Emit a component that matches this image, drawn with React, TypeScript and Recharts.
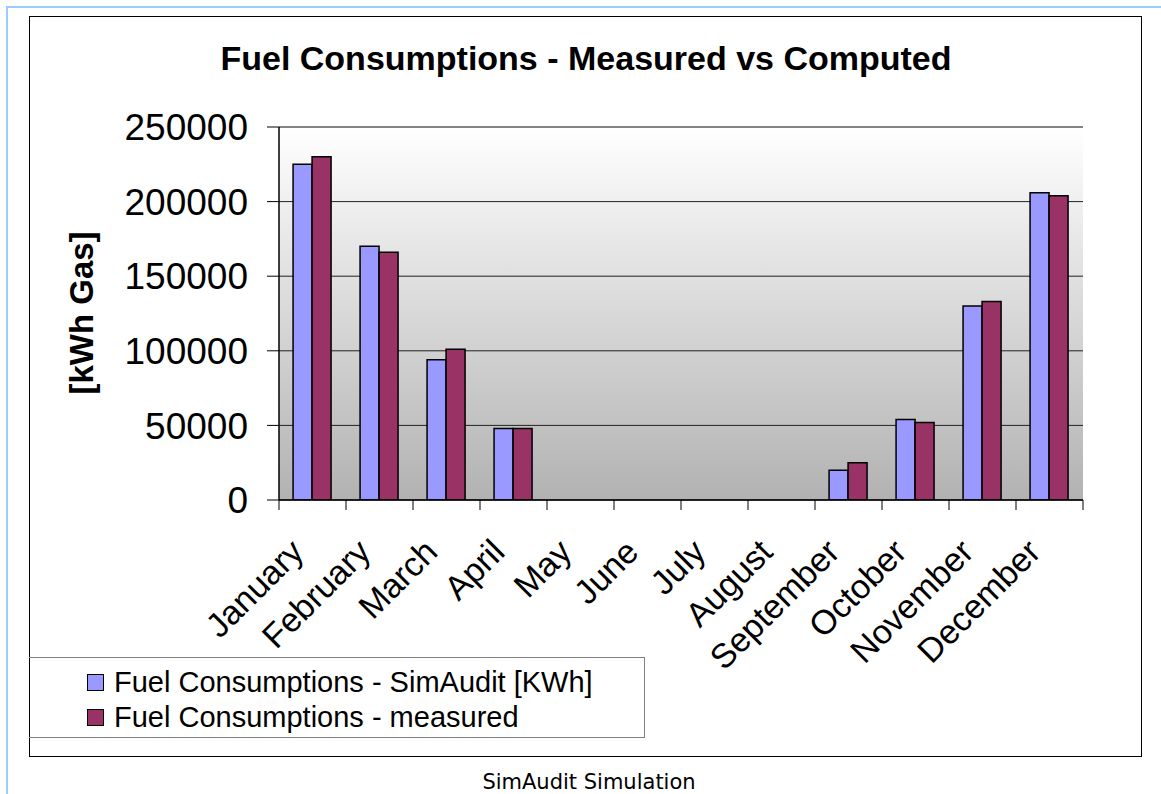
import React from 'react';
import { BarChart, Bar, XAxis, YAxis, CartesianGrid, Legend, ReferenceLine } from 'recharts';

// valori
const months = [
  'January', 'February', 'March', 'April', 'May', 'June',
  'July', 'August', 'September', 'October', 'November', 'December',
];
const simAudit = [225000, 170000, 94000, 48000, 0, 0, 0, 0, 20000, 54000, 130000, 206000];
const measured = [230000, 166000, 101000, 48000, 0, 0, 0, 0, 25000, 52000, 133000, 204000];
const yTicks = [0, 50000, 100000, 150000, 200000, 250000];

const data = months.map((month, i) => ({
  month,
  simAudit: simAudit[i],
  measured: measured[i],
}));

const FONT = '"Liberation Sans", Arial, sans-serif';

// tick mese: trattino sul bordo della categoria + etichetta ruotata
const MonthTick = (props: any) => {
  const { x, y, payload, index } = props;
  const half = payload?.offset ?? 0;
  const ax = x - 7;
  const ay = y + 44;
  return (
    <g>
      <line x1={x - half} x2={x - half} y1={y - 10} y2={y} stroke="#000" />
      {index === months.length - 1 && (
        <line x1={x + half} x2={x + half} y1={y - 10} y2={y} stroke="#000" />
      )}
      <text
        x={ax}
        y={ay}
        transform={`rotate(-45, ${ax}, ${ay})`}
        textAnchor="end"
        fontSize={34}
        fill="#000"
      >
        {payload.value}
      </text>
    </g>
  );
};

const renderLegend = (props: any) => {
  const { payload } = props;
  return (
    <div style={{ paddingTop: 7, paddingLeft: 58 }}>
      {(payload || []).map((entry: any) => (
        <div key={entry.value} style={{ display: 'flex', alignItems: 'center', height: 35 }}>
          <span
            style={{
              display: 'inline-block',
              width: 15,
              height: 15,
              background: entry.color,
              border: '1.5px solid #000',
              marginRight: 10,
            }}
          />
          <span style={{ fontSize: 29, color: '#000', fontFamily: FONT }}>{entry.value}</span>
        </div>
      ))}
    </div>
  );
};

export default function App() {
  return (
    <div
      style={{
        position: 'absolute',
        left: 0,
        top: 0,
        width: 1161,
        height: 794,
        background: '#fff',
        fontFamily: FONT,
        overflow: 'hidden',
      }}
    >
      {/* cornice azzurra della pagina */}
      <div
        style={{
          position: 'absolute',
          left: 6,
          top: 6,
          width: 1200,
          height: 900,
          borderTop: '2px solid #9cf',
          borderLeft: '2px solid #9cf',
        }}
      />
      {/* bordo nero del grafico */}
      <div
        style={{
          position: 'absolute',
          left: 29,
          top: 16,
          width: 1113,
          height: 741,
          border: '1.5px solid #000',
          boxSizing: 'border-box',
        }}
      />

      <div style={{ position: 'absolute', left: 0, top: 0 }}>
        <BarChart
          width={1161}
          height={794}
          data={data}
          margin={{ top: 127, right: 78, bottom: 234, left: 179 }}
          barCategoryGap="21%"
          barGap={0}
        >
          <defs>
            <linearGradient id="plotBg" x1="0" y1="0" x2="0" y2="1">
              <stop offset="0%" stopColor="#ffffff" />
              <stop offset="100%" stopColor="#b2b2b2" />
            </linearGradient>
          </defs>
          <CartesianGrid vertical={false} stroke="#222" fill="url(#plotBg)" />
          <XAxis
            dataKey="month"
            interval={0}
            height={60}
            tickSize={10}
            tickMargin={0}
            tickLine={false}
            axisLine={{ stroke: '#000', strokeWidth: 1.5 }}
            tick={<MonthTick />}
          />
          <YAxis
            domain={[0, 250000]}
            ticks={yTicks}
            interval={0}
            width={100}
            tickSize={12}
            tickMargin={19}
            allowDataOverflow
            axisLine={{ stroke: '#000', strokeWidth: 1.5 }}
            tickLine={{ stroke: '#000' }}
            tick={{ fontSize: 37, fill: '#000' }}
          />
          <YAxis
            yAxisId="frame"
            orientation="right"
            width={0}
            domain={[0, 250000]}
            tick={false}
            tickLine={false}
            axisLine={{ stroke: '#808080', strokeWidth: 1.5 }}
          />
          <ReferenceLine y={250000} stroke="#808080" strokeWidth={1.5} />
          <Bar
            dataKey="simAudit"
            name="Fuel Consumptions - SimAudit [KWh]"
            fill="#9999ff"
            stroke="#000"
            strokeWidth={1.5}
            isAnimationActive={false}
          />
          <Bar
            dataKey="measured"
            name="Fuel Consumptions - measured"
            fill="#993366"
            stroke="#000"
            strokeWidth={1.5}
            isAnimationActive={false}
          />
          <Legend
            layout="vertical"
            align="center"
            verticalAlign="middle"
            content={renderLegend}
            wrapperStyle={{
              left: 29,
              top: 657,
              width: 616,
              height: 81,
              border: '1px solid #808080',
              borderLeft: 'none',
              boxSizing: 'border-box',
              background: 'transparent',
            }}
          />
        </BarChart>
      </div>

      <svg
        width={1161}
        height={794}
        style={{ position: 'absolute', left: 0, top: 0, pointerEvents: 'none' }}
      >
        <text x={586} y={70} textAnchor="middle" fontSize={34} fontWeight="bold" fill="#000">
          Fuel Consumptions - Measured vs Computed
        </text>
        <text
          x={93}
          y={313}
          transform="rotate(-90, 93, 313)"
          textAnchor="middle"
          fontSize={33}
          fontWeight="bold"
          fill="#000"
        >
          [kWh Gas]
        </text>
        <text
          x={589}
          y={789}
          textAnchor="middle"
          fontSize={21}
          fill="#000"
          style={{ fontFamily: '"DejaVu Sans", sans-serif' }}
        >
          SimAudit Simulation
        </text>
      </svg>
    </div>
  );
}
